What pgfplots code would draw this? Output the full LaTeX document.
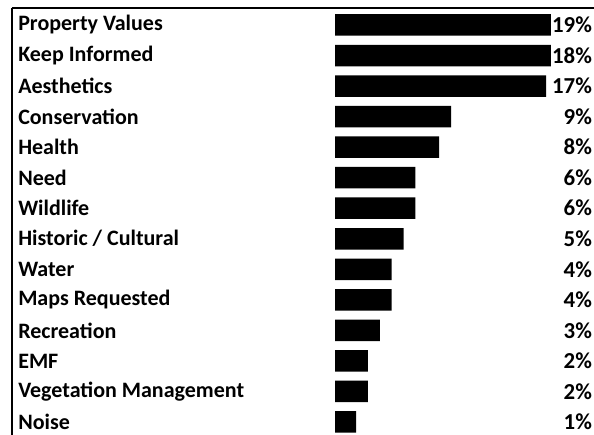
\documentclass[border=0pt]{standalone}
\usepackage{pgfplots}
\pgfplotsset{compat=1.18}
\usepackage{fontspec}
\setmainfont{Carlito}
\begin{document}
\begin{tikzpicture}[x=1pt,y=1pt]
\path[use as bounding box] (0,0) rectangle (356.4,261);
\begin{axis}[at={(7.2pt,0pt)}, anchor=south west, scale only axis,
  width=349.2pt, height=256.2pt,
  xmin=-27.2, xmax=21.81, ymin=-0.426, ymax=13.557,
  axis x line*=top, axis y line*=left,
  axis line style={-, line width=1.2pt},
  xtick=\empty, ytick=\empty, clip=false]
\addplot[xbar, bar width=12.9pt, fill=black, draw=none, x filter/.expression={x+0.77}]
  coordinates {(19,13) (18,12) (17,11) (9,10) (8,9) (6,8) (6,7) (5,6) (4,5) (4,4) (3,3) (2,2) (2,1) (1,0)};
\addplot[draw=none, mark=none, nodes near coords, point meta=explicit symbolic,
  nodes near coords style={anchor=east, inner xsep=0.6pt, inner ysep=4pt, fill=white, font=\fontsize{13.7}{16}\selectfont\bfseries}]
  coordinates {(21.75,13) [19\%] (21.75,12) [18\%] (21.75,11) [17\%] (21.75,10) [9\%]
   (21.75,9) [8\%] (21.75,8) [6\%] (21.75,7) [6\%] (21.75,6) [5\%] (21.75,5) [4\%]
   (21.75,4) [4\%] (21.75,3) [3\%] (21.75,2) [2\%] (21.75,1) [2\%] (21.75,0) [1\%]};
\addplot[draw=none, mark=none, nodes near coords, point meta=explicit symbolic,
  nodes near coords style={anchor=west, inner sep=0pt, font=\fontsize{13.2}{16}\selectfont\bfseries}]
  coordinates {(-26.7,13) [Property Values] (-26.7,12) [Keep Informed] (-26.7,11) [Aesthetics]
   (-26.7,10) [Conservation] (-26.7,9) [Health] (-26.7,8) [Need] (-26.7,7) [Wildlife]
   (-26.7,6) [Historic / Cultural] (-26.7,5) [Water] (-26.7,4) [Maps Requested]
   (-26.7,3) [Recreation] (-26.7,2) [EMF] (-26.7,1) [Vegetation Management] (-26.7,0) [Noise]};
\end{axis}
\end{tikzpicture}
\end{document}
